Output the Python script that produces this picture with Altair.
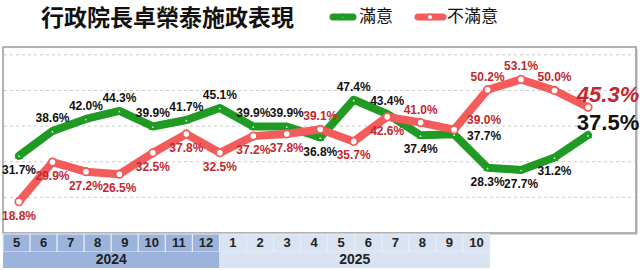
import altair as alt
import pandas as pd

months = ["5", "6", "7", "8", "9", "10", "11", "12", "1", "2", "3", "4", "5", "6", "7", "8", "9", "10"]
years = ["2024"] * 8 + ["2025"] * 10
satisfied = [31.7, 38.6, 42.0, 44.3, 39.9, 41.7, 45.1, 39.9, 39.9, 36.8, 47.4, 43.4, 37.4, 37.7, 28.3, 27.7, 31.2, 37.5]
dissatisfied = [18.8, 29.9, 27.2, 26.5, 32.5, 37.8, 32.5, 37.2, 37.8, 39.1, 35.7, 42.6, 41.0, 39.0, 50.2, 53.1, 50.0, 45.3]
sat_label_pos = ["below", "above", "above", "above", "above", "above", "above", "above", "above", "below",
                 "above", "above", "below", "right", "below", "below", "below", "big"]
dis_label_pos = ["below", "below", "below", "below", "below", "below", "below", "below", "below", "above",
                 "below", "below", "above", "right", "above", "above", "above", "big"]
grid_values = [20, 30, 40, 50, 60]
title_text = "行政院長卓榮泰施政表現"
series_names = ["滿意", "不滿意"]

GREEN = "#1f9a22"
RED = "#f45b5b"
RED_TEXT = "#c3282e"

rows = []
for i, m in enumerate(months):
    rows.append({"idx": i, "month": m, "year": years[i], "series": series_names[0],
                 "value": satisfied[i], "pos": sat_label_pos[i]})
    rows.append({"idx": i, "month": m, "year": years[i], "series": series_names[1],
                 "value": dissatisfied[i], "pos": dis_label_pos[i]})
df = pd.DataFrame(rows)
df["label"] = df["value"].map(lambda v: f"{v:.1f}%")

months_df = pd.DataFrame({"idx": list(range(len(months))), "month": months, "year": years})
grid_df = pd.DataFrame({"g": grid_values})
one = pd.DataFrame({"a": [0]})

xs = alt.Scale(domain=[0, 17], range=[19, 588])
ys = alt.Scale(domain=[10, 62.2], range=[233, 47])
X = alt.X("idx:Q", scale=xs, axis=None)
Y = alt.Y("value:Q", scale=ys, axis=None)

shadow = alt.Chart(one).mark_rect(fill="#d8d8d8").encode(
    x=alt.value(5), x2=alt.value(638), y=alt.value(49), y2=alt.value(235))
box = alt.Chart(one).mark_rect(fill="white", stroke="#9a9a9a", strokeWidth=1.5).encode(
    x=alt.value(3), x2=alt.value(636), y=alt.value(47), y2=alt.value(233))

grid = alt.Chart(grid_df).mark_rule(color="#cccccc", strokeDash=[3, 3], strokeWidth=1).encode(
    y=alt.Y("g:Q", scale=ys, axis=None), x=alt.value(4), x2=alt.value(635))

def series_layers(name, color, text_color, shape, psize):
    base = alt.Chart(df).transform_filter(alt.datum.series == name)
    line = base.mark_line(color=color, strokeWidth=8, strokeJoin="round", strokeCap="round").encode(x=X, y=Y)
    pts = base.mark_point(shape=shape, filled=True, fill="white", stroke=color, strokeWidth=1.8,
                          size=psize, opacity=1).encode(x=X, y=Y)
    common = dict(font="Liberation Sans", fontWeight="bold", fontSize=12, color=text_color)
    above = base.transform_filter(alt.datum.pos == "above").mark_text(dy=-13, **common).encode(
        x=X, y=Y, text="label:N")
    below = base.transform_filter(alt.datum.pos == "below").mark_text(dy=14, **common).encode(
        x=X, y=Y, text="label:N")
    right = base.transform_filter(alt.datum.pos == "right").mark_text(
        dx=30, dy=2 if name == series_names[0] else -10, **common).encode(
        x=X, y=Y, text="label:N")
    big = base.transform_filter(alt.datum.pos == "big").mark_text(
        dx=20, dy=-12, font="Liberation Sans", fontWeight="bold", fontSize=22,
        fontStyle="italic" if name == series_names[1] else "normal", color=text_color).encode(
        x=X, y=Y, text="label:N")
    return [line, pts, above, below, right, big]

green_layers = series_layers(series_names[0], GREEN, "#111111", "triangle-up", 28)
red_layers = series_layers(series_names[1], RED, RED_TEXT, "circle", 55)

# bottom table
ts = alt.Scale(domain=[0, 18], range=[3, 490])
cell_color = alt.Color("year:N", scale=alt.Scale(domain=["2024", "2025"], range=["#9cb4dc", "#dae3f1"]), legend=None)
cells = alt.Chart(months_df).transform_calculate(idx2="datum.idx + 1").mark_rect(
    stroke="#e8eef8", strokeWidth=1).encode(
    x=alt.X("idx:Q", scale=ts, axis=None), x2="idx2:Q", y=alt.value(234), y2=alt.value(252), color=cell_color)
cell_text = alt.Chart(months_df).transform_calculate(mid="datum.idx + 0.5").mark_text(
    font="Liberation Sans", fontWeight="bold", fontSize=13, color="#222222").encode(
    x=alt.X("mid:Q", scale=ts, axis=None), y=alt.value(243), text="month:N")
year_band = alt.Chart(months_df).transform_aggregate(
    lo="min(idx)", hi="max(idx)", groupby=["year"]).transform_calculate(
    hi1="datum.hi + 1").mark_rect().encode(
    x=alt.X("lo:Q", scale=ts, axis=None), x2="hi1:Q", y=alt.value(252), y2=alt.value(268), color=cell_color)
year_text = alt.Chart(months_df).transform_aggregate(
    lo="min(idx)", hi="max(idx)", groupby=["year"]).transform_calculate(
    mid="(datum.lo + datum.hi + 1) / 2").mark_text(
    font="Liberation Sans", fontWeight="bold", fontSize=14, color="#222222").encode(
    x=alt.X("mid:Q", scale=ts, axis=None), y=alt.value(260), text="year:N")

# title and legend
title = alt.Chart(one).mark_text(text=title_text, font="Noto Sans CJK TC", fontWeight="bold",
                                 fontSize=23, color="#111111", align="left", baseline="middle").encode(
    x=alt.value(41), y=alt.value(19))
leg_g_line = alt.Chart(one).mark_rule(color=GREEN, strokeWidth=7, strokeCap="round").encode(
    x=alt.value(333), x2=alt.value(353), y=alt.value(17))
leg_g_pt = alt.Chart(one).mark_point(shape="triangle-up", filled=True, fill="white", stroke=GREEN,
                                     size=20, opacity=1).encode(x=alt.value(343), y=alt.value(17))
leg_g_txt = alt.Chart(one).mark_text(text=series_names[0], font="Noto Sans CJK TC", fontSize=17,
                                     color="#111111", align="left", baseline="middle").encode(
    x=alt.value(359), y=alt.value(17))
leg_r_line = alt.Chart(one).mark_rule(color=RED, strokeWidth=7, strokeCap="round").encode(
    x=alt.value(418), x2=alt.value(443), y=alt.value(17))
leg_r_pt = alt.Chart(one).mark_point(shape="circle", filled=True, fill="white", stroke=RED,
                                     size=30, strokeWidth=1.5, opacity=1).encode(x=alt.value(430), y=alt.value(17))
leg_r_txt = alt.Chart(one).mark_text(text=series_names[1], font="Noto Sans CJK TC", fontSize=17,
                                     color="#111111", align="left", baseline="middle").encode(
    x=alt.value(447), y=alt.value(17))

chart = alt.layer(
    shadow, box, grid, *green_layers, *red_layers,
    cells, cell_text, year_band, year_text,
    title, leg_g_line, leg_g_pt, leg_g_txt, leg_r_line, leg_r_pt, leg_r_txt
).resolve_scale(x="independent", y="independent", color="independent").properties(
    width=640, height=270, padding=0, autosize="none", background="white"
).configure_view(stroke=None)

chart.save("out.html", embed_options={"renderer": "svg", "actions": False})
